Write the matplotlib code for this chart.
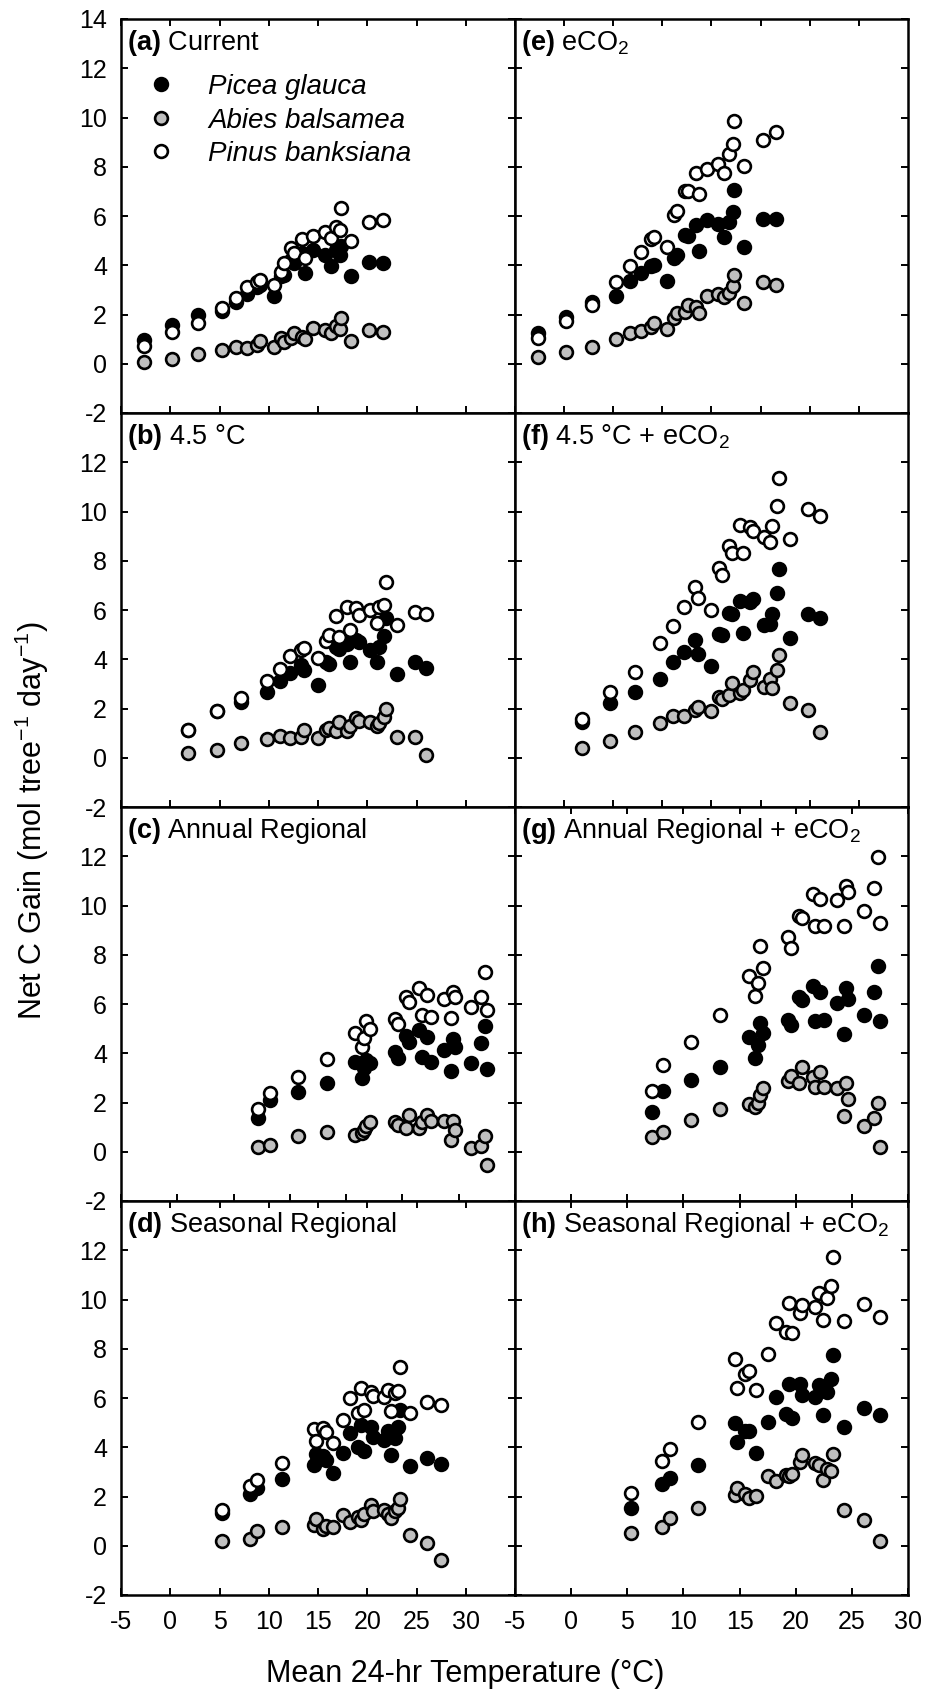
import matplotlib
matplotlib.use("Agg")
import matplotlib.pyplot as plt

plt.rcParams['font.family'] = ['Liberation Sans', 'DejaVu Sans']
plt.rcParams['mathtext.fontset'] = 'custom'
plt.rcParams['mathtext.rm'] = 'Liberation Sans'
plt.rcParams['mathtext.it'] = 'Liberation Sans:italic'
plt.rcParams['mathtext.bf'] = 'Liberation Sans:bold'
plt.rcParams['axes.unicode_minus'] = False

# mean 24-hr temperature of each site/day, per warming scenario (deg C)
temp_current = [-2.7, 0.2, 2.8, 5.3, 6.7, 7.8, 8.8, 9.1, 10.5, 11.2, 11.5, 12.3,
                12.6, 13.4, 13.7, 14.5, 15.7, 16.3, 16.8, 17.2, 17.3, 18.3, 20.2, 21.6]
temp_warm = [1.8, 4.7, 7.2, 9.8, 11.1, 12.2, 13.3, 13.6, 15.0, 15.8, 16.1, 16.8, 17.1,
             17.9, 18.2, 18.9, 19.2, 20.3, 21.0, 21.2, 21.7, 21.9, 23.0, 24.8, 26.0]
temp_annual = [7.2, 8.2, 10.7, 13.3, 15.8, 16.4, 16.6, 16.8, 17.1, 19.3, 19.6, 20.3, 20.6,
               21.5, 21.7, 22.2, 22.5, 23.7, 24.3, 24.5, 24.7, 26.1, 27.0, 27.3, 27.5]
temp_seasonal = [5.3, 8.1, 8.8, 11.3, 14.6, 14.8, 15.5, 15.8, 16.5, 17.5, 18.2, 19.1, 19.4,
                 19.7, 20.4, 20.6, 21.7, 22.1, 22.4, 22.8, 23.1, 23.3, 24.3, 26.1, 27.5]

# net C gain (mol tree-1 day-1)
picea_a = [0.97, 1.58, 2.0, 2.15, 2.5, 2.85, 3.1, 3.2, 2.75, 3.55, 3.6, 4.2,
           4.1, 4.5, 3.67, 4.6, 4.4, 3.95, 4.6, 4.4, 4.8, 3.57, 4.15, 4.1]
abies_a = [0.09, 0.18, 0.4, 0.56, 0.7, 0.63, 0.77, 0.94, 0.67, 1.04, 0.9, 1.04,
           1.24, 1.1, 1.0, 1.44, 1.37, 1.24, 1.53, 1.4, 1.85, 0.94, 1.37, 1.28]
pinus_a = [0.73, 1.27, 1.67, 2.25, 2.69, 3.1, 3.34, 3.42, 3.2, 3.74, 4.08, 4.69,
           4.5, 5.05, 4.28, 5.19, 5.37, 5.1, 5.57, 5.42, 6.31, 5.0, 5.77, 5.84]

picea_e = [1.24, 1.9, 2.5, 2.75, 3.36, 3.7, 3.95, 4.0, 3.36, 4.3, 4.42, 5.23,
           5.2, 5.64, 4.56, 5.84, 5.68, 5.16, 5.77, 6.18, 7.06, 4.73, 5.88, 5.88]
abies_e = [0.27, 0.47, 0.7, 1.0, 1.24, 1.31, 1.48, 1.65, 1.41, 1.85, 2.05, 2.12,
           2.39, 2.32, 2.05, 2.75, 2.84, 2.7, 2.86, 3.16, 3.61, 2.46, 3.34, 3.2]
pinus_e = [1.05, 1.75, 2.39, 3.34, 3.95, 4.53, 5.06, 5.14, 4.76, 6.04, 6.2, 7.03,
           7.0, 7.76, 6.9, 7.9, 8.1, 7.73, 8.52, 8.93, 9.87, 8.05, 9.09, 9.43]

picea_b = [1.13, 1.88, 2.28, 2.65, 3.13, 3.46, 3.77, 3.57, 2.96, 3.9, 3.81, 4.5, 4.43,
           4.6, 3.87, 4.78, 4.7, 4.38, 3.9, 4.49, 4.95, 5.67, 3.42, 3.87, 3.64]
abies_b = [0.2, 0.31, 0.58, 0.76, 0.9, 0.8, 0.86, 1.13, 0.8, 1.13, 1.2, 1.09, 1.47,
           1.1, 1.3, 1.6, 1.5, 1.47, 1.27, 1.4, 1.67, 1.97, 0.84, 0.84, 0.12]
pinus_b = [1.13, 1.88, 2.42, 3.13, 3.59, 4.13, 4.38, 4.45, 4.04, 4.74, 5.0, 5.76, 4.9,
           6.14, 5.19, 6.07, 5.8, 6.0, 5.46, 6.14, 6.2, 7.15, 5.4, 5.9, 5.84]

picea_f = [1.47, 2.21, 2.65, 3.19, 3.9, 4.31, 4.78, 4.22, 3.73, 5.03, 4.99, 5.87, 5.84,
           6.38, 5.08, 6.34, 6.44, 5.39, 5.42, 5.84, 6.68, 7.65, 4.85, 5.83, 5.66]
abies_f = [0.39, 0.66, 1.06, 1.43, 1.7, 1.7, 1.92, 2.08, 1.9, 2.46, 2.4, 2.55, 3.03,
           2.62, 2.75, 3.16, 3.5, 2.89, 3.19, 2.82, 3.57, 4.18, 2.21, 1.94, 1.06]
pinus_f = [1.56, 2.65, 3.5, 4.65, 5.37, 6.14, 6.95, 6.48, 6.0, 7.69, 7.42, 8.61, 8.3,
           9.45, 8.33, 9.38, 9.2, 8.98, 8.78, 9.41, 10.22, 11.35, 8.88, 10.1, 9.82]

picea_c = [1.36, 2.11, 2.44, 2.81, 3.66, 2.98, 3.39, 3.73, 3.6, 4.07, 3.8, 4.7, 4.47,
           4.95, 3.84, 4.65, 3.66, 4.13, 3.26, 4.57, 4.27, 3.6, 4.41, 5.11, 3.35]
abies_c = [0.21, 0.28, 0.62, 0.82, 0.68, 0.75, 0.89, 1.05, 1.19, 1.19, 1.1, 0.96, 1.5,
           0.96, 1.2, 1.5, 1.23, 1.23, 0.48, 1.23, 0.89, 0.14, 0.24, 0.62, -0.53]
pinus_c = [1.73, 2.4, 3.03, 3.76, 4.81, 4.27, 4.61, 5.29, 4.97, 5.38, 5.2, 6.27, 6.1,
           6.64, 5.56, 6.37, 5.49, 6.19, 5.42, 6.5, 6.3, 5.87, 6.3, 7.29, 5.76]

picea_g = [1.63, 2.48, 2.92, 3.46, 4.68, 3.8, 4.34, 5.24, 4.84, 5.33, 5.15, 6.27, 6.16,
           6.73, 5.29, 6.5, 5.35, 6.06, 4.78, 6.64, 6.19, 5.56, 6.5, 7.55, 5.29]
abies_g = [0.59, 0.82, 1.29, 1.73, 1.94, 1.8, 1.97, 2.31, 2.58, 2.89, 3.08, 2.78, 3.46,
           3.05, 2.64, 3.25, 2.64, 2.58, 1.46, 2.78, 2.13, 1.05, 1.36, 1.97, 0.21]
pinus_g = [2.47, 3.53, 4.47, 5.56, 7.14, 6.33, 6.87, 8.36, 7.45, 8.71, 8.26, 9.58, 9.48,
           10.47, 9.15, 10.25, 9.16, 10.22, 9.16, 10.79, 10.56, 9.79, 10.7, 11.98, 9.3]

picea_d = [1.32, 2.11, 2.34, 2.7, 3.28, 3.73, 3.65, 3.5, 2.97, 3.78, 4.57, 4.03, 4.9,
           3.86, 4.81, 4.41, 4.3, 4.64, 3.69, 4.37, 4.84, 5.52, 3.24, 3.55, 3.32]
abies_d = [0.21, 0.27, 0.58, 0.75, 0.85, 1.08, 0.67, 0.8, 0.78, 1.25, 0.98, 1.16, 1.05,
           1.3, 1.65, 1.4, 1.46, 1.3, 1.12, 1.4, 1.53, 1.89, 0.44, 0.13, -0.57]
pinus_d = [1.46, 2.43, 2.65, 3.38, 4.73, 4.27, 4.77, 4.6, 4.19, 5.11, 5.99, 5.38, 6.4,
           5.52, 6.26, 6.1, 6.06, 6.33, 5.49, 6.2, 6.3, 7.25, 5.41, 5.85, 5.72]

picea_h = [1.52, 2.51, 2.74, 3.28, 4.97, 4.23, 4.68, 4.64, 3.76, 5.04, 6.03, 5.35, 6.57,
           5.18, 6.57, 6.12, 6.06, 6.53, 5.31, 6.26, 6.76, 7.75, 4.81, 5.58, 5.31]
abies_h = [0.51, 0.78, 1.12, 1.52, 2.06, 2.34, 2.1, 1.93, 2.02, 2.84, 2.61, 2.88, 2.84,
           2.9, 3.42, 3.69, 3.38, 3.28, 2.65, 3.1, 3.05, 3.73, 1.46, 1.05, 0.21]
pinus_h = [2.13, 3.46, 3.92, 5.04, 7.57, 6.4, 6.98, 7.11, 6.33, 7.79, 9.03, 8.7, 9.87,
           8.63, 9.47, 9.78, 9.68, 10.25, 9.17, 10.05, 10.55, 11.74, 9.14, 9.82, 9.3]

species = ['Picea glauca', 'Abies balsamea', 'Pinus banksiana']
fills = ['black', '#c0c0c0', 'white']

# (letter, title, row, col, temps, series, right x limit, ticks on top)
panels = [
    ('a', 'Current', 0, 0, temp_current, [picea_a, abies_a, pinus_a], 35, True),
    ('b', '4.5 °C', 1, 0, temp_warm, [picea_b, abies_b, pinus_b], 35, False),
    ('c', 'Annual Regional', 2, 0, temp_annual, [picea_c, abies_c, pinus_c], 30, False),
    ('d', 'Seasonal Regional', 3, 0, temp_seasonal, [picea_d, abies_d, pinus_d], 35, True),
    ('e', 'eCO$_2$', 0, 1, temp_current, [picea_e, abies_e, pinus_e], 35, True),
    ('f', '4.5 °C + eCO$_2$', 1, 1, temp_warm, [picea_f, abies_f, pinus_f], 35, False),
    ('g', 'Annual Regional + eCO$_2$', 2, 1, temp_annual, [picea_g, abies_g, pinus_g], 30, True),
    ('h', 'Seasonal Regional + eCO$_2$', 3, 1, temp_seasonal, [picea_h, abies_h, pinus_h], 30, True),
]

W, H = 928, 1698
fig = plt.figure(figsize=(W / 100, H / 100), dpi=100)

col_x = [121, 515]
col_w = [394, 393]
top, ph = 19, 394

for letter, title, row, col, temps, series, xmax, top_ticks in panels:
    y_top = top + ph * row
    ax = fig.add_axes([col_x[col] / W, 1 - (y_top + ph) / H, col_w[col] / W, ph / H])
    handles = []
    for vals, fc, name in zip(series, fills, species):
        h, = ax.plot(temps, vals, 'o', ls='none', ms=9.2, mfc=fc, mec='black',
                     mew=1.9, label=name)
        handles.append(h)

    ax.set_xlim(-5, xmax)
    ax.set_ylim(-2, 14)
    ax.set_xticks(range(-5, 31, 5))
    ax.set_yticks(range(-2, 15, 2))
    for s in ax.spines.values():
        s.set_linewidth(1.8)
    ax.tick_params(direction='in', length=5, width=1.4, right=True, top=top_ticks,
                   labelsize=18)
    ax.tick_params(axis='y', pad=10)
    ax.tick_params(axis='x', pad=11)

    if col == 0:
        ylabels = [str(v) for v in range(-2, 15, 2)]
        if row > 0:
            ylabels[-1] = ''
        ax.set_yticklabels(ylabels)
    else:
        ax.set_yticklabels([])
    if row < 3:
        ax.set_xticklabels([])

    ax.text(0.016, 0.94, r'$\mathbf{(%s)}$ %s' % (letter, title), transform=ax.transAxes,
            fontsize=19.5, va='center', ha='left')

    if letter == 'a':
        ax.legend(handles=handles, loc='upper left', bbox_to_anchor=(0.066, 0.86),
                  frameon=False, prop={'style': 'italic', 'size': 20},
                  handlelength=1.0, handletextpad=1.2, labelspacing=0.27,
                  borderpad=0, borderaxespad=0)

fig.text(32 / W, 1 - 821 / H, 'Net C Gain (mol tree$^{-1}$ day$^{-1}$)', rotation=90,
         fontsize=22, ha='center', va='center')
fig.text(465 / W, 1 - 1674 / H, 'Mean 24-hr Temperature (°C)', fontsize=22,
         ha='center', va='center')

fig.savefig('out.png', dpi=100)
